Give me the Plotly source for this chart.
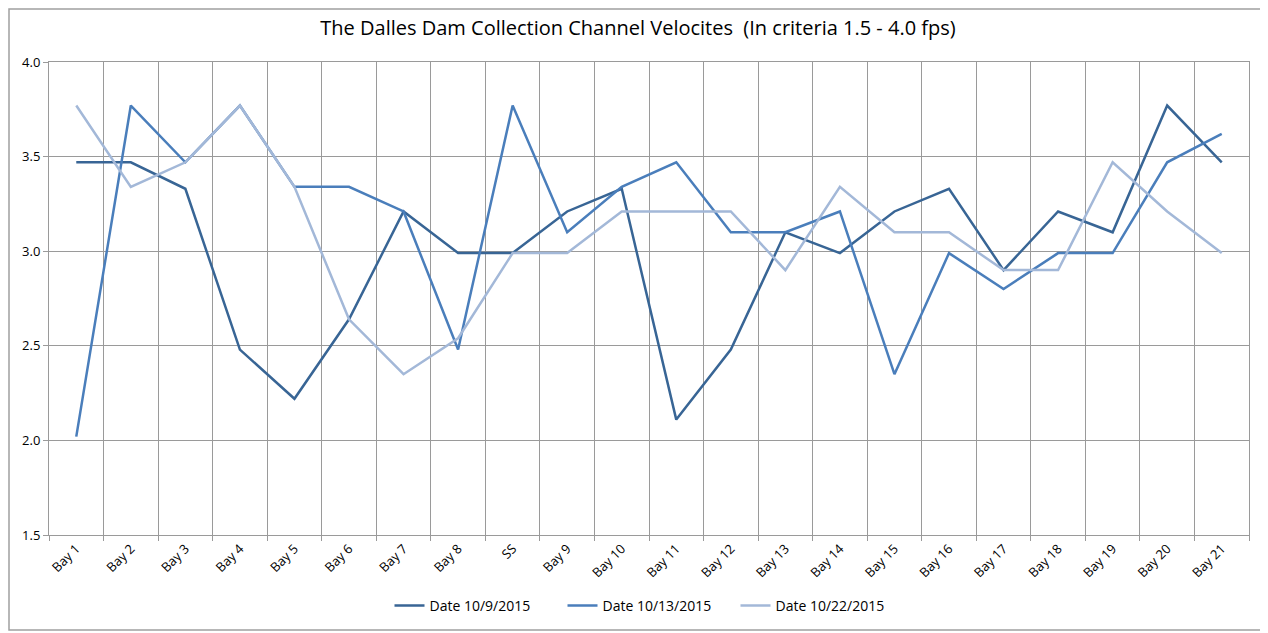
import plotly.graph_objects as go

bays = ['Bay 1', 'Bay 2', 'Bay 3', 'Bay 4', 'Bay 5', 'Bay 6', 'Bay 7', 'Bay 8', 'SS',
        'Bay 9', 'Bay 10', 'Bay 11', 'Bay 12', 'Bay 13', 'Bay 14', 'Bay 15', 'Bay 16',
        'Bay 17', 'Bay 18', 'Bay 19', 'Bay 20', 'Bay 21']

vel_oct9 = [3.47, 3.47, 3.33, 2.48, 2.22, 2.64, 3.21, 2.99, 2.99, 3.21, 3.33,
            2.11, 2.48, 3.10, 2.99, 3.21, 3.33, 2.90, 3.21, 3.10, 3.77, 3.47]
vel_oct13 = [2.02, 3.77, 3.47, 3.77, 3.34, 3.34, 3.21, 2.48, 3.77, 3.10, 3.34,
             3.47, 3.10, 3.10, 3.21, 2.35, 2.99, 2.80, 2.99, 2.99, 3.47, 3.62]
vel_oct22 = [3.77, 3.34, 3.47, 3.77, 3.34, 2.64, 2.35, 2.54, 2.99, 2.99, 3.21,
             3.21, 3.21, 2.90, 3.34, 3.10, 3.10, 2.90, 2.90, 3.47, 3.21, 2.99]

series = [
    ('Date 10/9/2015', vel_oct9, '#386595'),
    ('Date 10/13/2015', vel_oct13, '#4A7EBB'),
    ('Date 10/22/2015', vel_oct22, '#A3B8D8'),
]

fig = go.Figure()
for name, vals, color in series:
    fig.add_trace(go.Scatter(
        x=bays, y=vals, mode='lines', name=name,
        line=dict(color=color, width=2.5)
    ))

font_family = 'Open Sans'

# page body has an 8px margin, so the figure is 8px smaller and shifted
fig.update_layout(
    width=1260, height=625,
    paper_bgcolor='white', plot_bgcolor='white',
    margin=dict(l=41, r=19, t=54, b=98, autoexpand=False),
    title=dict(text='The Dalles Dam Collection Channel Velocites&nbsp;&nbsp;(In criteria 1.5 - 4.0 fps)',
               x=0.5, xanchor='center', y=0.968, yanchor='middle',
               font=dict(family=font_family, size=20, color='black')),
    font=dict(family=font_family, size=12, color='black'),
    showlegend=True,
    legend=dict(orientation='h', x=0.5, xanchor='center', y=-0.15, yanchor='middle',
                font=dict(size=14), traceorder='normal', entrywidth=128),
    shapes=[dict(type='rect', xref='paper', yref='paper',
                 x0=-40 / 1200, x1=1 + 17 / 1200, y0=-95 / 473, y1=1 + 53 / 473,
                 line=dict(color='#A0A0A0', width=1.5), fillcolor='rgba(0,0,0,0)')],
)

fig.update_xaxes(
    type='category', range=[-0.5, len(bays) - 0.5], automargin=False,
    tickson='boundaries', showgrid=True, gridcolor='#9A9A9A', gridwidth=1,
    showline=True, linecolor='#9A9A9A', mirror=True,
    ticks='outside', ticklen=5, tickcolor='#9A9A9A', tickangle=-45,
    tickfont=dict(size=13)
)
fig.update_yaxes(
    range=[1.5, 4.0], dtick=0.5, tickformat='.1f', automargin=False,
    showgrid=True, gridcolor='#9A9A9A', gridwidth=1,
    showline=True, linecolor='#9A9A9A', mirror=True,
    ticks='outside', ticklen=5, tickcolor='#9A9A9A', zeroline=False,
    tickfont=dict(size=13)
)

fig.write_html('out.html')
